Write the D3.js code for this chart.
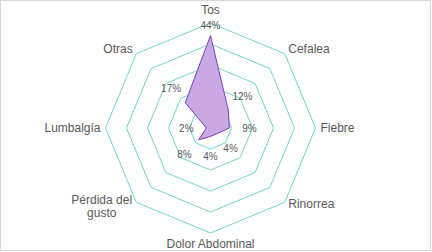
<!DOCTYPE html>
<html>
<head>
<meta charset="utf-8">
<script src="https://cdn.jsdelivr.net/npm/d3@7"></script>
<style>
  body { margin: 0; background: #fff; }
  text { font-family: Arial, "Liberation Sans", sans-serif; fill: #595959; }
</style>
</head>
<body>
<svg id="chart" width="432" height="252"></svg>
<script>
const categories = ['Tos', 'Cefalea', 'Fiebre', 'Rinorrea', 'Dolor Abdominal', 'Pérdida del gusto', 'Lumbalgía', 'Otras']
const values = [0.44, 0.12, 0.09, 0.04, 0.04, 0.08, 0.02, 0.17]
const ringTicks = [0.1, 0.2, 0.3, 0.4, 0.5]

const svg = d3.select('#chart')
const cx = 210.5, cy = 128, R = 105

svg.append('rect')
  .attr('x', 0.5).attr('y', 0.5)
  .attr('width', 430).attr('height', 250)
  .attr('fill', '#fff').attr('stroke', '#d9d9d9')

const g = svg.append('g').attr('transform', 'translate(' + cx + ',' + cy + ')')

const r = d3.scaleLinear().domain([0, 0.5]).range([0, R])
const angle = d3.scaleLinear().domain([0, categories.length]).range([0, 2 * Math.PI])

const radial = d3.lineRadial()
  .angle((d, i) => angle(i))
  .radius(d => r(d))
  .curve(d3.curveLinearClosed)

// grid rings
g.selectAll('.ring')
  .data(ringTicks)
  .enter().append('path')
  .attr('class', 'ring')
  .attr('d', t => radial(categories.map(() => t)))
  .attr('fill', 'none')
  .attr('stroke', '#6fd6c9')
  .attr('stroke-width', 1)

// series
g.append('path')
  .attr('d', radial(values))
  .attr('fill', '#c9a9e3')
  .attr('stroke', '#7a3fb8')
  .attr('stroke-width', 1)

const pt = (i, rad) => [Math.sin(angle(i)) * rad, -Math.cos(angle(i)) * rad]

// data labels
g.selectAll('.val')
  .data(values)
  .enter().append('text')
  .attr('class', 'val')
  .attr('x', (d, i) => pt(i, Math.min(r(d) + 20, R - 2))[0])
  .attr('y', (d, i) => pt(i, Math.min(r(d) + 20, R - 2))[1])
  .attr('dy', '0.35em')
  .attr('text-anchor', 'middle')
  .style('font-size', '10px')
  .text(d => Math.round(d * 100) + '%')

// category labels
const catLabel = g.selectAll('.cat')
  .data(categories)
  .enter().append('text')
  .attr('class', 'cat')
  .style('font-size', '12px')
  .attr('text-anchor', (d, i) => {
    const s = Math.sin(angle(i))
    return Math.abs(s) < 0.01 ? 'middle' : (s > 0 ? 'start' : 'end')
  })
  .attr('transform', (d, i) => {
    const p = pt(i, R + 5)
    const c = Math.cos(angle(i))
    let y = p[1]
    if (c > 0.99) y -= 8
    else if (c < -0.99) y += 6
    else if (c > 0.5) y -= 1
    else if (c < -0.5) y -= 2
    return 'translate(' + p[0] + ',' + y + ')'
  })

catLabel.each(function (d, i) {
  const t = d3.select(this)
  if (d === 'Pérdida del gusto') {
    t.attr('text-anchor', 'middle')
    t.append('tspan').attr('x', -31).attr('dy', '0em').text('Pérdida del')
    t.append('tspan').attr('x', -31).attr('dy', '1.1em').text('gusto')
  } else {
    t.attr('dy', '0.35em').text(d)
  }
})
</script>
</body>
</html>
